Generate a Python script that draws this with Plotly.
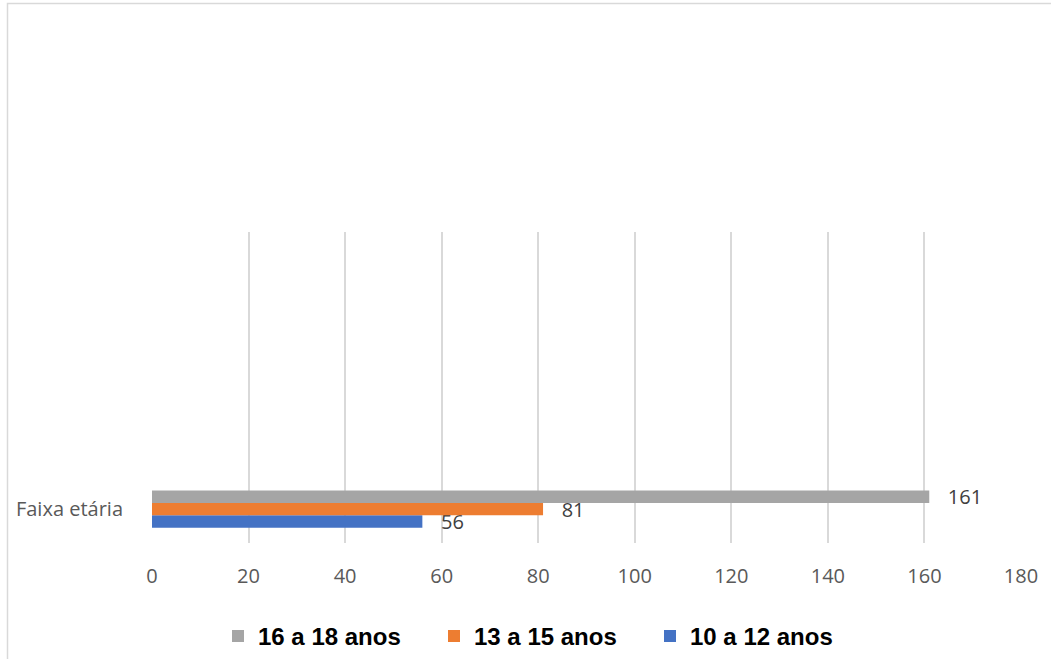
import plotly.graph_objects as go

categories = ["Faixa etária"]
category_pos = [0]
series_names = ["10 a 12 anos", "13 a 15 anos", "16 a 18 anos"]
series_values = [[56], [81], [161]]
series_colors = ["#4472C4", "#ED7D31", "#A5A5A5"]
x_ticks = [0, 20, 40, 60, 80, 100, 120, 140, 160, 180]

BAR_W = 0.18
fig = go.Figure()
for i, (name, vals, col) in enumerate(zip(series_names, series_values, series_colors)):
    fig.add_trace(go.Bar(
        y=category_pos, x=vals, name=name, orientation="h",
        width=BAR_W, offset=(i - 1.5) * BAR_W,
        marker=dict(color=col, line=dict(width=0)),
        text=[f"{v}" for v in vals], texttemplate="   %{text}",
        textposition="outside", constraintext="none", cliponaxis=False,
        textfont=dict(family="Open Sans", size=20, color="#404040"),
    ))

W, H = 1051, 659
L, R, T, B = 152, 30, 232, 116
fig.update_layout(
    width=W, height=H,
    margin=dict(l=L, r=R, t=T, b=B, autoexpand=False),
    paper_bgcolor="white", plot_bgcolor="white",
    barmode="overlay",
    showlegend=True,
    legend=dict(orientation="h", traceorder="reversed",
                x=(218 - L) / (W - L - R), xanchor="left", y=-0.30, yanchor="middle",
                font=dict(family="Liberation Sans, Arial", size=24, color="#000000", weight="bold"),
                itemwidth=30, entrywidth=171, entrywidthmode="pixels"),
    xaxis=dict(range=[0, 180], tickvals=x_ticks, showgrid=True, gridcolor="#D9D9D9",
               gridwidth=1.5, zeroline=False, showline=False,
               tickfont=dict(family="Open Sans", size=20, color="#595959"),
               ticklabelstandoff=19, fixedrange=True),
    yaxis=dict(range=[-0.49, 4.01], tickvals=category_pos, ticktext=categories,
               showgrid=False, zeroline=False, showline=False,
               tickfont=dict(family="Open Sans", size=20, color="#595959"),
               ticklabelstandoff=28, fixedrange=True),
)

# chart border (light gray frame)
fig.add_shape(type="rect", xref="paper", yref="paper",
              x0=(7.5 - L) / (W - L - R), x1=1.2,
              y0=-0.6, y1=1 + (T - 3.5) / (H - T - B),
              line=dict(color="#D9D9D9", width=1.5), fillcolor="rgba(0,0,0,0)", layer="below")

fig.write_html("out.html")
